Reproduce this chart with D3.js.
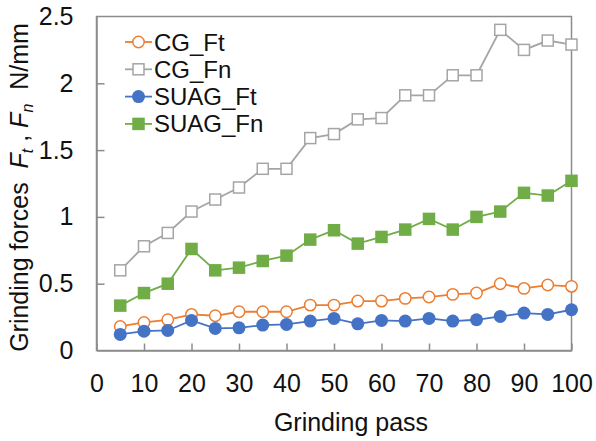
<!DOCTYPE html>
<html>
<head>
<meta charset="utf-8">
<script src="https://cdn.jsdelivr.net/npm/d3@7"></script>
<style>
  html, body { margin: 0; padding: 0; background: #fff; }
  svg { display: block; font-family: "Liberation Sans", Arial, sans-serif; }
</style>
</head>
<body>
<svg id="chart" width="596" height="441"></svg>
<script>
const passes = [5,10,15,20,25,30,35,40,45,50,55,60,65,70,75,80,85,90,95,100];
const cgFt   = [0.18,0.21,0.23,0.27,0.26,0.29,0.29,0.29,0.34,0.34,0.37,0.37,0.39,0.40,0.42,0.43,0.50,0.465,0.49,0.48];
const cgFn   = [0.60,0.78,0.88,1.04,1.13,1.22,1.36,1.36,1.59,1.62,1.73,1.74,1.91,1.91,2.06,2.06,2.40,2.25,2.32,2.29];
const suagFt = [0.12,0.145,0.15,0.225,0.165,0.17,0.19,0.195,0.22,0.24,0.20,0.225,0.22,0.24,0.22,0.23,0.255,0.28,0.27,0.305];
const suagFn = [0.336,0.43,0.50,0.76,0.60,0.62,0.67,0.71,0.83,0.90,0.80,0.85,0.905,0.985,0.905,1.0,1.04,1.18,1.16,1.27];
const xTicks = [0,10,20,30,40,50,60,70,80,90,100];
const yTicks = [0,0.5,1,1.5,2,2.5];
const seriesNames = ["CG_Ft","CG_Fn","SUAG_Ft","SUAG_Fn"];

const series = [
  {name: seriesNames[0], values: cgFt,   color: "#ED7D31", shape: "circle", filled: false},
  {name: seriesNames[1], values: cgFn,   color: "#A5A5A5", shape: "square", filled: false},
  {name: seriesNames[2], values: suagFt, color: "#4472C4", shape: "circle", filled: true},
  {name: seriesNames[3], values: suagFn, color: "#70AD47", shape: "square", filled: true}
];

const svg = d3.select("#chart");
const pLeft = 96.5, pRight = 571.5, pTop = 16.5, pBottom = 350.5;
const x = d3.scaleLinear().domain([0,100]).range([pLeft, pRight]);
const y = d3.scaleLinear().domain([0,2.5]).range([pBottom, pTop]);
const axisColor = "#8C8C8C";
const tickFont = 25;
const legendFont = 24;

// frame
svg.append("rect").attr("x", pLeft).attr("y", pTop)
  .attr("width", pRight-pLeft).attr("height", pBottom-pTop)
  .attr("fill", "none").attr("stroke", axisColor).attr("stroke-width", 1.5);

// x axis (inward ticks)
const gx = svg.append("g").attr("transform", `translate(0,${pBottom})`)
  .call(d3.axisBottom(x).tickValues(xTicks).tickSizeInner(-7).tickSizeOuter(0).tickPadding(24));
gx.select(".domain").attr("stroke", axisColor).attr("stroke-width", 1.5);
gx.selectAll(".tick line").attr("stroke", axisColor).attr("stroke-width", 1.5);
gx.selectAll(".tick text").attr("font-size", tickFont).attr("fill", "#111")
  .attr("font-family", "Liberation Sans, Arial, sans-serif");

// y axis (inward ticks)
const gy = svg.append("g").attr("transform", `translate(${pLeft},0)`)
  .call(d3.axisLeft(y).tickValues(yTicks).tickFormat(d3.format("")).tickSizeInner(-8).tickSizeOuter(0).tickPadding(23));
gy.select(".domain").attr("stroke", axisColor).attr("stroke-width", 1.5);
gy.selectAll(".tick line").attr("stroke", axisColor).attr("stroke-width", 1.5)
  .filter(d => d === 0 || d === 2.5).remove();
gy.selectAll(".tick text").attr("font-size", tickFont).attr("fill", "#111")
  .attr("font-family", "Liberation Sans, Arial, sans-serif");

// axis titles
svg.append("text").attr("x", (pLeft+pRight)/2 + 17).attr("y", 431)
  .attr("text-anchor", "middle").attr("font-size", 25).attr("fill", "#111")
  .text("Grinding pass");

const yt = svg.append("text")
  .attr("transform", `translate(28,${(pTop+pBottom)/2 + 4}) rotate(-90)`)
  .attr("text-anchor", "middle").attr("font-size", 25).attr("fill", "#111");
yt.append("tspan").text("Grinding forces\u00A0\u00A0");
yt.append("tspan").attr("font-style", "italic").text("F");
yt.append("tspan").attr("font-size", 16).attr("font-style", "italic").attr("dy", 5).text("t");
yt.append("tspan").attr("dy", -5).text(" , ");
yt.append("tspan").attr("font-style", "italic").text("F");
yt.append("tspan").attr("font-size", 16).attr("font-style", "italic").attr("dy", 5).text("n");
yt.append("tspan").attr("dy", -5).text("\u00A0\u00A0N/mm");

function drawMarker(g, s, cx, cy) {
  if (s.shape === "circle") {
    g.append("circle").attr("cx", cx).attr("cy", cy).attr("r", s.filled ? 6.5 : 5.7)
      .attr("fill", s.filled ? s.color : "#fff")
      .attr("stroke", s.color).attr("stroke-width", s.filled ? 0 : 1.5);
  } else {
    const sz = s.filled ? 12.5 : 11;
    g.append("rect").attr("x", cx - sz/2).attr("y", cy - sz/2)
      .attr("width", sz).attr("height", sz)
      .attr("fill", s.filled ? s.color : "#fff")
      .attr("stroke", s.color).attr("stroke-width", s.filled ? 0 : 1.5);
  }
}

const line = d3.line().x(d => x(d[0])).y(d => y(d[1]));
series.forEach(s => {
  const pts = passes.map((p, i) => [p, s.values[i]]);
  const g = svg.append("g");
  g.append("path").datum(pts).attr("d", line)
    .attr("fill", "none").attr("stroke", s.color).attr("stroke-width", 1.8);
  pts.forEach(p => drawMarker(g, s, x(p[0]), y(p[1])));
});

// legend
const legY0 = 42, legDy = 27.3;
series.forEach((s, i) => {
  const ly = legY0 + i*legDy;
  const g = svg.append("g");
  g.append("line").attr("x1", 125).attr("x2", 152).attr("y1", ly).attr("y2", ly)
    .attr("stroke", s.color).attr("stroke-width", 1.8);
  drawMarker(g, s, 138.5, ly);
  g.append("text").attr("x", 154).attr("y", ly + 8.5).attr("font-size", legendFont)
    .attr("fill", "#111").text(s.name);
});
</script>
</body>
</html>
